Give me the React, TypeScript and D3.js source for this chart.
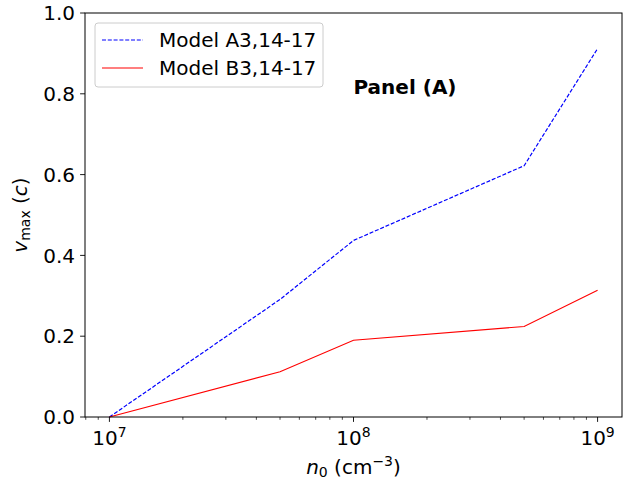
import React from 'react';
import * as d3 from 'd3';

const densities = [1e7, 5e7, 1e8, 5e8, 1e9];
const modelA = [0.0, 0.291, 0.437, 0.622, 0.912];
const modelB = [0.0, 0.112, 0.19, 0.224, 0.314];
const yTicks = [0, 0.2, 0.4, 0.6, 0.8, 1.0];
const xMajor = [7, 8, 9];

export default function App() {
  const width = 640;
  const height = 480;
  const margin = { top: 13, right: 18, bottom: 63, left: 85 };
  const innerW = width - margin.left - margin.right;
  const innerH = height - margin.top - margin.bottom;

  const x = d3.scaleLog().domain([Math.pow(10, 6.9), Math.pow(10, 9.1)]).range([0, innerW]);
  const y = d3.scaleLinear().domain([0, 1]).range([innerH, 0]);

  const line = d3.line<number>()
    .x((_, i) => x(densities[i]))
    .y(d => y(d));

  // minor ticks for each decade, kept inside the domain
  const minor: number[] = [];
  for (let e = 6; e <= 9; e++) {
    for (let m = 2; m <= 9; m++) {
      const v = m * Math.pow(10, e);
      if (v >= x.domain()[0] && v <= x.domain()[1]) minor.push(v);
    }
  }

  const font = '"DejaVu Sans", sans-serif';
  const fs = 20;
  const fsSmall = 14;
  const dash = "4,1.8";

  return (
    <svg width={width} height={height} style={{ position: 'absolute', left: 0, top: 0, background: '#fff' }} fontFamily={font}>
      <g transform={`translate(${margin.left},${margin.top})`}>
        <path d={line(modelA) || ''} fill="none" stroke="blue" strokeWidth={1.2} strokeDasharray={dash} />
        <path d={line(modelB) || ''} fill="none" stroke="red" strokeWidth={1.1} />

        {/* frame */}
        <rect x={0} y={0} width={innerW} height={innerH} fill="none" stroke="#000" strokeWidth={1} />

        {/* y axis */}
        {yTicks.map(t => (
          <g key={t} transform={`translate(0,${y(t)})`}>
            <line x1={-4.9} x2={0} stroke="#000" strokeWidth={0.9} />
            <text x={-10} dy="0.36em" textAnchor="end" fontSize={fs}>{t.toFixed(1)}</text>
          </g>
        ))}

        {/* x axis */}
        {minor.map(v => (
          <line key={v} x1={x(v)} x2={x(v)} y1={innerH} y2={innerH + 2.8} stroke="#000" strokeWidth={0.7} />
        ))}
        {xMajor.map(e => (
          <g key={e} transform={`translate(${x(Math.pow(10, e))},${innerH})`}>
            <line y1={0} y2={4.9} stroke="#000" strokeWidth={0.9} />
            <text y={28} textAnchor="middle" fontSize={fs}>
              10<tspan dy={-8} fontSize={fsSmall}>{e}</tspan>
            </text>
          </g>
        ))}

        {/* axis labels */}
        <text x={innerW / 2} y={innerH + 57} textAnchor="middle" fontSize={fs}>
          <tspan fontStyle="italic">n</tspan>
          <tspan dy={3} fontSize={fsSmall}>0</tspan>
          <tspan dy={-3}> (cm</tspan>
          <tspan dy={-8} fontSize={fsSmall}>−3</tspan>
          <tspan dy={8}>)</tspan>
        </text>
        <text transform={`translate(${-58},${innerH / 2}) rotate(-90)`} textAnchor="middle" fontSize={fs}>
          <tspan fontStyle="italic">v</tspan>
          <tspan dy={3} fontSize={fsSmall}>max</tspan>
          <tspan dy={-3}> (</tspan>
          <tspan fontStyle="italic">c</tspan>
          <tspan>)</tspan>
        </text>

        {/* panel label */}
        <text x={x(1e8)} y={y(0.8)} fontSize={fs} fontWeight="bold">Panel (A)</text>

        {/* legend */}
        <g transform="translate(10,10)">
          <rect x={0} y={0} width={228} height={64} rx={3} fill="#fff" fillOpacity={0.8} stroke="#ccc" />
          <line x1={7} x2={48} y1={17} y2={17} stroke="blue" strokeWidth={1.2} strokeDasharray={dash} />
          <text x={64} y={17} dy="0.35em" fontSize={fs}>Model A3,14-17</text>
          <line x1={7} x2={48} y1={45} y2={45} stroke="red" strokeWidth={1.1} />
          <text x={64} y={45} dy="0.35em" fontSize={fs}>Model B3,14-17</text>
        </g>
      </g>
    </svg>
  );
}
